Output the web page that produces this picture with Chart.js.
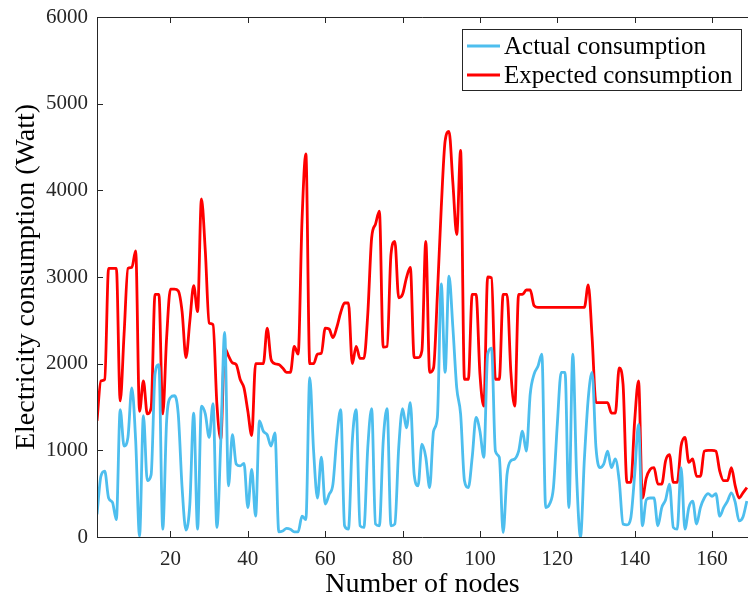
<!DOCTYPE html>
<html>
<head>
<meta charset="utf-8">
<script src="https://cdn.jsdelivr.net/npm/chart.js@4.4.1/dist/chart.umd.min.js"></script>
<style>
    html, body { margin: 0; padding: 0; background: #fff; }
    #consumptionChart { display: block; }
</style>
</head>
<body>
<canvas id="consumptionChart" width="748" height="603"></canvas>
<script>
// Node numbers on the x axis
const nodes = Array.from({ length: 169 }, (_, i) => i + 1);

// Actual consumption per node (Watt)
const actualConsumption = [
    260, 700, 760, 450, 400, 200, 1470, 1050, 1150, 1720,
    1110, 10, 1400, 650, 720, 1880, 1990, 90, 1340, 1610,
    1630, 1420, 570, 80, 380, 1430, 90, 1510, 1420, 1150,
    1540, 110, 1100, 2360, 590, 1180, 840, 820, 850, 340,
    780, 240, 1340, 1220, 1180, 1050, 1200, 60, 70, 100,
    90, 60, 60, 240, 200, 1840, 990, 450, 920, 380,
    490, 610, 1150, 1470, 130, 90, 1110, 1470, 130, 110,
    1030, 1480, 150, 130, 1110, 1480, 130, 150, 1030, 1480,
    1260, 1550, 720, 590, 1070, 920, 570, 1220, 1380, 2920,
    1900, 3010, 2420, 1720, 1420, 650, 570, 920, 1380, 1220,
    920, 2110, 2180, 990, 920, 50, 720, 880, 900, 990,
    1220, 990, 1650, 1880, 1970, 2110, 340, 380, 570, 1300,
    1900, 1900, 340, 2110, 700, 0, 900, 1600, 1900, 1030,
    800, 840, 990, 800, 900, 650, 150, 140, 220, 720,
    1300, 130, 430, 450, 450, 130, 340, 430, 610, 110,
    90, 800, 90, 340, 415, 150, 340, 450, 500, 470,
    500, 240, 340, 415, 510, 400, 185, 230, 415
];

// Expected consumption per node (Watt)
const expectedConsumption = [
    1340, 1800, 1820, 3100, 3100, 3100, 1570, 2340, 3100, 3110,
    3300, 1450, 1800, 1420, 1490, 2800, 2800, 1420, 2300, 2860,
    2860, 2840, 2600, 2070, 2490, 2900, 2600, 3900, 3300, 2470,
    2450, 1530, 1130, 2180, 2090, 2010, 1990, 1820, 1720, 1450,
    1170, 2000, 2000, 2000, 2410, 2050, 2000, 1990, 1950, 1900,
    1900, 2200, 2110, 3650, 4420, 2000, 2000, 2110, 2120, 2410,
    2400, 2300, 2420, 2590, 2700, 2700, 2000, 2200, 2060, 2060,
    2570, 3450, 3610, 3760, 2190, 2200, 3260, 3410, 2760, 2800,
    2990, 3110, 2070, 2070, 2150, 3410, 1900, 1950, 2800, 3800,
    4570, 4680, 4090, 3490, 4460, 1820, 1820, 2800, 2800, 1880,
    1510, 3000, 2990, 1820, 1820, 2800, 2800, 1900, 1510, 2800,
    2800, 2850, 2850, 2670, 2650, 2650, 2650, 2650, 2650, 2650,
    2650, 2650, 2650, 2650, 2650, 2650, 2650, 2910, 2300, 1550,
    1550, 1550, 1550, 1430, 1430, 1950, 1760, 630, 630, 1340,
    1800, 450, 680, 780, 800, 610, 610, 880, 950, 630,
    630, 1050, 1150, 860, 900, 700, 700, 990, 1000, 1000,
    990, 760, 650, 650, 800, 590, 450, 510, 570
];

// Tick labels
const xTicks = [20, 40, 60, 80, 100, 120, 140, 160];
const yTicks = [0, 1000, 2000, 3000, 4000, 5000, 6000];

const seriesLabels = ['Actual consumption', 'Expected consumption'];
const seriesColors = ['#4DBEEE', '#FF0000'];

const fontFamily = '"Liberation Serif", "Times New Roman", serif';
const axisColor = '#262626';

// Box around the axes, inward tick marks and the legend
const axesBoxPlugin = {
    id: 'axesBox',
    afterDatasetsDraw(chart) {
        const { ctx, chartArea: a, scales } = chart;
        ctx.save();
        ctx.strokeStyle = axisColor;
        ctx.lineWidth = 1;
        ctx.beginPath();
        ctx.moveTo(a.left + 0.5, a.bottom + 0.5);
        ctx.lineTo(a.left + 0.5, a.top + 0.5);
        ctx.lineTo(a.right, a.top + 0.5);
        ctx.moveTo(a.left, a.bottom + 0.5);
        ctx.lineTo(a.right, a.bottom + 0.5);
        // x ticks (bottom and top)
        xTicks.forEach(v => {
            const px = Math.round(scales.x.getPixelForValue(v)) + 0.5;
            ctx.moveTo(px, a.bottom);
            ctx.lineTo(px, a.bottom - 6);
            ctx.moveTo(px, a.top);
            ctx.lineTo(px, a.top + 6);
        });
        // y ticks (left)
        yTicks.forEach(v => {
            const py = Math.round(scales.y.getPixelForValue(v)) + 0.5;
            ctx.moveTo(a.left, py);
            ctx.lineTo(a.left + 6, py);
        });
        ctx.stroke();

        // Legend
        const box = { x: 462.5, y: 29.5, w: 279, h: 61 };
        ctx.fillStyle = '#fff';
        ctx.fillRect(box.x, box.y, box.w, box.h);
        ctx.strokeRect(box.x, box.y, box.w, box.h);
        ctx.font = '25px ' + fontFamily;
        ctx.textBaseline = 'middle';
        chart.data.datasets.forEach((ds, i) => {
            const y = 46 + i * 29;
            ctx.strokeStyle = ds.borderColor;
            ctx.lineWidth = 2.8;
            ctx.beginPath();
            ctx.moveTo(467, y);
            ctx.lineTo(500, y);
            ctx.stroke();
            ctx.fillStyle = '#000';
            ctx.fillText(ds.label, 504, y + 1);
        });
        ctx.restore();
    }
};

function createChart() {
    const ctx = document.getElementById('consumptionChart').getContext('2d');
    new Chart(ctx, {
        type: 'line',
        data: {
            labels: nodes,
            datasets: [
                {
                    label: seriesLabels[0],
                    data: actualConsumption,
                    borderColor: seriesColors[0],
                    borderWidth: 2.8,
                    pointRadius: 0,
                    cubicInterpolationMode: 'monotone'
                },
                {
                    label: seriesLabels[1],
                    data: expectedConsumption,
                    borderColor: seriesColors[1],
                    borderWidth: 2.8,
                    pointRadius: 0,
                    cubicInterpolationMode: 'monotone'
                }
            ]
        },
        options: {
            responsive: false,
            animation: false,
            layout: { padding: { left: 0, top: 17, right: 0, bottom: 0 } },
            plugins: {
                legend: { display: false },
                tooltip: { enabled: false }
            },
            scales: {
                x: {
                    type: 'linear',
                    min: 1,
                    max: 169.3,
                    afterBuildTicks: scale => { scale.ticks = xTicks.map(v => ({ value: v })); },
                    afterFit: scale => {
                        scale.height = 66;
                        scale.paddingLeft = 0;
                        scale.paddingRight = 0;
                    },
                    grid: { display: false, drawTicks: false },
                    border: { display: false },
                    ticks: {
                        padding: 10,
                        color: axisColor,
                        maxRotation: 0,
                        font: { family: fontFamily, size: 21 },
                        callback: v => String(v)
                    },
                    title: {
                        display: true,
                        text: 'Number of nodes',
                        color: '#000',
                        padding: { top: 0, bottom: 2 },
                        font: { family: fontFamily, size: 28 }
                    }
                },
                y: {
                    min: 0,
                    max: 6000,
                    afterBuildTicks: scale => { scale.ticks = yTicks.map(v => ({ value: v })); },
                    afterFit: scale => {
                        scale.width = 97;
                        scale.paddingTop = 0; // plot top is set by layout padding
                        scale.paddingBottom = 0;
                    },
                    grid: { display: false, drawTicks: false },
                    border: { display: false },
                    ticks: {
                        padding: 9,
                        color: axisColor,
                        font: { family: fontFamily, size: 21 },
                        callback: v => String(v) // no thousands separator
                    },
                    title: {
                        display: true,
                        text: 'Electricity consumption (Watt)',
                        color: '#000',
                        padding: { top: 10, bottom: 0 },
                        font: { family: fontFamily, size: 28 }
                    }
                }
            }
        },
        plugins: [axesBoxPlugin]
    });
}

createChart();
</script>
</body>
</html>
